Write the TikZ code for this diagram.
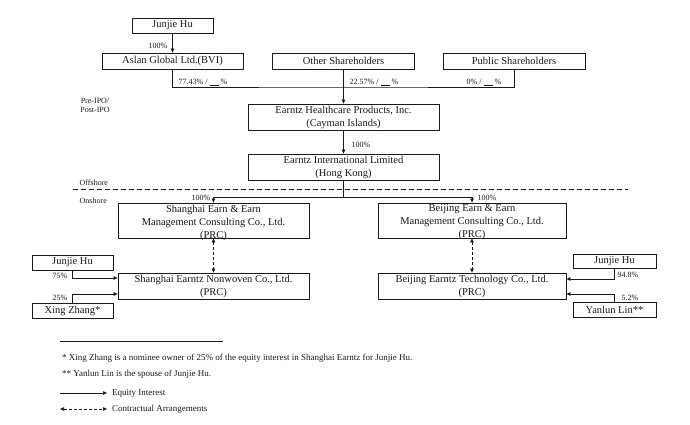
\documentclass[tikz,border=0pt]{standalone}
\usepackage{fontspec}
\setmainfont{Liberation Serif}
\usetikzlibrary{arrows.meta,calc}
\definecolor{ink}{HTML}{1A1A1A}
\tikzset{
  entity/.style={draw=ink, line width=0.8pt, fill=white, inner sep=0pt,
                 align=center, text=ink, font=\fontsize{10.5}{13}\selectfont},
  person/.style={entity, minimum width=81, minimum height=15},
  holder/.style={entity, minimum width=142, minimum height=16},
  company/.style={entity, minimum width=191, minimum height=26},
  wfoe/.style={entity, minimum width=191, minimum height=35},
  % three-line captions run a little past the foot of their box
  boxtext/.style={inner sep=0pt, align=center, text=ink, font=\fontsize{10.5}{13}\selectfont},
  % ownership figures and side captions: small plain text
  share/.style={font=\fontsize{8}{9.5}\selectfont, inner sep=0.5pt, text=ink},
  note/.style={font=\fontsize{9}{11}\selectfont, inner sep=0pt, anchor=west, text=ink},
  link/.style={draw=ink, line width=0.7pt},
  equity/.style={link, -{Triangle[length=4pt,width=3.5pt]}},
  contract/.style={link, dash pattern=on 3pt off 2pt,
                   {Triangle[length=4pt,width=3.5pt]}-{Triangle[length=4pt,width=3.5pt]}},
  border/.style={draw=ink, line width=1pt, dash pattern=on 5pt off 3pt},
}
\newcommand{\blank}{\rule[-1pt]{9pt}{0.4pt}}

\begin{document}
\begin{tikzpicture}[x=1pt, y=-1pt]
  \useasboundingbox (0,0) rectangle (690,424);

  % --- holders and companies ------------------------------------------------
  \node[person] (hu) at (172.5,25.5) {Junjie Hu};
  \node[holder, minimum width=141] (aslan) at (172.5,61) {Aslan Global Ltd.(BVI)};
  \node[holder] (others) at (343.5,61) {Other Shareholders};
  \node[holder] (public) at (514,61) {Public Shareholders};
  \node[company] (cayman) at (343.5,117) {Earntz Healthcare Products, Inc.\\(Cayman Islands)};
  \node[company] (hk) at (343.5,167) {Earntz International Limited\\(Hong Kong)};
  \node[wfoe] (shwfoe) at (213.5,220.5) {};
  \node[wfoe, minimum width=188] (bjwfoe) at (472,220.5) {};
  \node[boxtext] (shwfoeText) at ($(shwfoe)+(0,2)$) {Shanghai Earn \& Earn\\Management Consulting Co., Ltd.\\(PRC)};
  \node[boxtext] (bjwfoeText) at ($(bjwfoe)+(0,2)$) {Beijing Earn \& Earn\\Management Consulting Co., Ltd.\\(PRC)};
  \node[company] (shop) at (213.5,286) {Shanghai Earntz Nonwoven Co., Ltd.\\(PRC)};
  \node[company, minimum width=188] (bjop) at (472,286) {Beijing Earntz Technology Co., Ltd.\\(PRC)};
  \node[person] (shhu) at (72.5,262.5) {Junjie Hu};
  \node[person] (zhang) at (72.5,310.5) {Xing Zhang*};
  \node[person, minimum width=83, minimum height=14] (bjhu) at (614.5,261) {Junjie Hu};
  \node[person, minimum width=83] (lin) at (614.5,309.5) {Yanlun Lin**};

  % --- equity flows -----------------------------------------------------------
  \coordinate (pool) at (343.5,87);
  \coordinate (split) at (343.5,197);
  \draw[equity] (hu) -- (aslan);
  \draw[link] (aslan.south) |- (pool) -| (public.south);
  \draw[equity] (others) -- (cayman);
  \draw[equity] (cayman) -- (hk);
  \draw[link] (hk.south) -- (split);
  \draw[equity] (split) -| (shwfoe.north);
  \draw[equity] (split) -| (bjwfoe.north);
  \draw[contract] (shwfoe) -- (shop);
  \draw[contract] (bjwfoe) -- (bjop);
  \draw[equity] (shhu.south) |- ($(shop.west)+(0,-8)$);
  \draw[equity] (zhang.north) |- ($(shop.west)+(0,8)$);
  \draw[equity] (bjhu.south) |- ($(bjop.east)+(0,-7)$);
  \draw[equity] (lin.north) |- ($(bjop.east)+(0,8)$);

  % offshore / onshore divide
  \draw[border] (73,189) -- (628,189);

  % --- ownership figures ------------------------------------------------------
  \node[share, anchor=east] (pcHu) at (168,46) {100\%};
  \node[share, anchor=west] (pcAslan) at (178,82) {77.43\% /\ \blank\ \%};
  \node[share, anchor=west] (pcOthers) at (349,82) {22.57\% /\ \blank\ \%};
  \node[share, anchor=west] (pcPublic) at (466,82) {0\% /\ \blank\ \%};
  \node[share, anchor=west] (pcHk) at (351,145) {100\%};
  \node[share, anchor=east] (pcSh) at (211,198) {100\%};
  \node[share, anchor=west] (pcBj) at (477,198) {100\%};
  \node[share, anchor=east] (pcShHu) at (68,276) {75\%};
  \node[share, anchor=east] (pcZhang) at (68,298) {25\%};
  \node[share, anchor=west] (pcBjHu) at (617,275) {94.8\%};
  \node[share, anchor=west] (pcLin) at (621,298) {5.2\%};

  % --- side captions ------------------------------------------------------------
  \node[share, align=center] (ipo) at (95,105.5) {Pre-IPO/\\Post-IPO};
  \node[share, anchor=west] (offshore) at (79,183) {Offshore};
  \node[share, anchor=west] (onshore) at (79,201) {Onshore};

  % --- footnotes and legend ---------------------------------------------------
  \draw[link] (60,341) -- (223,341);
  \node[note] (fnZhang) at (62,358) {* Xing Zhang is a nominee owner of 25\% of the equity interest in Shanghai Earntz for Junjie Hu.};
  \node[note] (fnLin) at (62,374) {** Yanlun Lin is the spouse of Junjie Hu.};
  \coordinate (eqA) at (60,393);
  \coordinate (eqB) at (107,393);
  \coordinate (caA) at (60,409);
  \coordinate (caB) at (107,409);
  \draw[equity] (eqA) -- (eqB);
  \draw[contract] (caA) -- (caB);
  \node[note] (eqText) at (112,393) {Equity Interest};
  \node[note] (caText) at (112,409) {Contractual Arrangements};

\end{tikzpicture}
\end{document}
